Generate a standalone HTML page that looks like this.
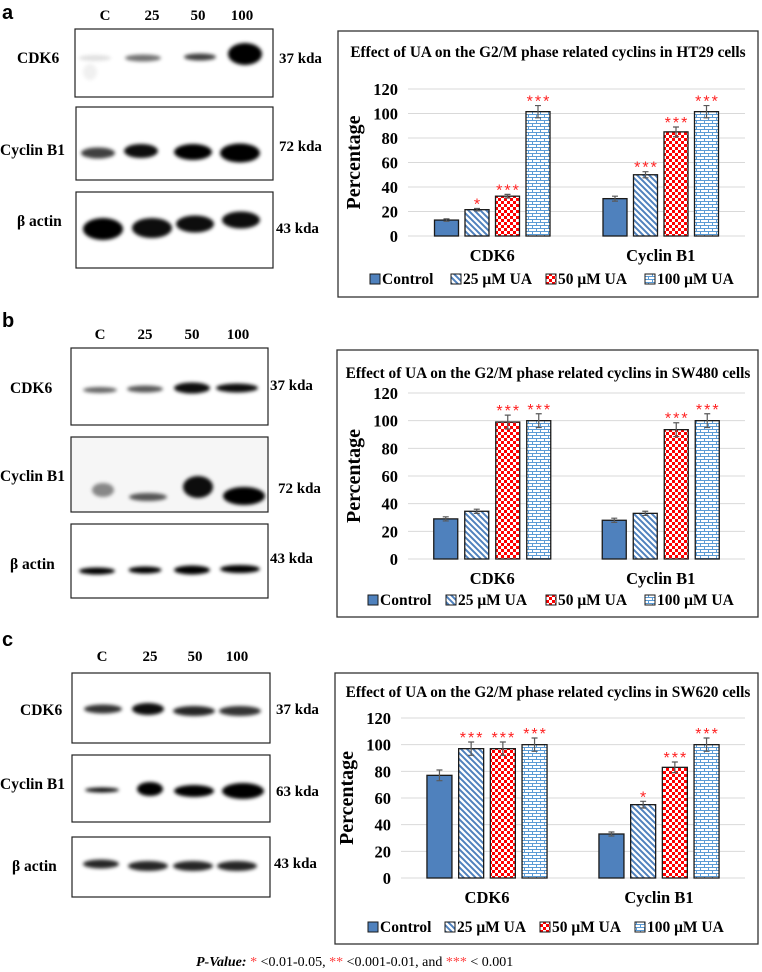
<!DOCTYPE html>
<html><head><meta charset="utf-8"><style>
html,body{margin:0;padding:0;background:#fff}
svg{display:block}
text{font-family:"Liberation Serif",serif;font-weight:bold;fill:#000}
</style></head><body>
<svg id="fig" width="762" height="972" viewBox="0 0 762 972" xmlns="http://www.w3.org/2000/svg">
<defs>
<filter id="blur" x="-50%" y="-100%" width="200%" height="300%"><feGaussianBlur stdDeviation="1.8"/></filter>
<pattern id="pDiag" patternUnits="userSpaceOnUse" width="6" height="6"><rect width="6" height="6" fill="#fff"/><path d="M-1,-1 L7,7 M-1,5 L1,7 M5,-1 L7,1" stroke="#4f81bd" stroke-width="2"/></pattern>
<pattern id="pCheck" patternUnits="userSpaceOnUse" width="6" height="6"><rect width="6" height="6" fill="#fff"/><rect width="3" height="3" fill="#ff0000"/><rect x="3" y="3" width="3" height="3" fill="#ff0000"/></pattern>
<pattern id="pBrick" patternUnits="userSpaceOnUse" width="8" height="6"><rect width="8" height="6" fill="#fff"/><path d="M0,0.5 H8 M0,3.5 H8 M0.5,0.5 V3.5 M4.5,3.5 V6" stroke="#5b9bd5" stroke-width="1"/></pattern>
</defs>

<text x="2" y="19" style="font-family:'Liberation Sans',sans-serif;font-size:20px">a</text>
<text x="2" y="327" style="font-family:'Liberation Sans',sans-serif;font-size:20px">b</text>
<text x="2" y="646" style="font-family:'Liberation Sans',sans-serif;font-size:20px">c</text>

<g id="blots"></g>
<g id="charts"></g>

<text x="196" y="966" font-size="14" style="font-weight:normal"><tspan style="font-weight:bold;font-style:italic">P-Value:</tspan> <tspan style="fill:#ff4040">*</tspan> &lt;0.01-0.05, <tspan style="fill:#ff4040">**</tspan> &lt;0.001-0.01, and <tspan style="fill:#ff4040">***</tspan> &lt; 0.001</text>
</svg>

<script>
const categories = ["CDK6", "Cyclin B1"];
const seriesNames = ["Control", "25 μM UA", "50 μM UA", "100 μM UA"];
const yTicks = [0, 20, 40, 60, 80, 100, 120];
const yMax = 120;

const ht29Cdk6 = [13, 21.5, 32.5, 101.5];
const ht29Cyclin = [30.5, 50, 85, 101.5];
const ht29Cdk6Err = [1, 1, 1.5, 5];
const ht29CyclinErr = [2, 2.5, 4, 5];
const ht29Cdk6Stars = ["", "*", "***", "***"];
const ht29CyclinStars = ["", "***", "***", "***"];

const sw480Cdk6 = [29, 34.5, 99, 100];
const sw480Cyclin = [28, 33, 93.5, 100];
const sw480Cdk6Err = [1.5, 1.5, 5, 5];
const sw480CyclinErr = [1.5, 1.5, 5, 5];
const sw480Cdk6Stars = ["", "", "***", "***"];
const sw480CyclinStars = ["", "", "***", "***"];

const sw620Cdk6 = [77, 97, 97, 100];
const sw620Cyclin = [33, 55, 83, 100];
const sw620Cdk6Err = [4, 5, 5, 5];
const sw620CyclinErr = [1.5, 2.5, 4, 5];
const sw620Cdk6Stars = ["", "***", "***", "***"];
const sw620CyclinStars = ["", "*", "***", "***"];

const NS = "http://www.w3.org/2000/svg";
function mk(tag, attrs, parent) {
  const e = document.createElementNS(NS, tag);
  for (const k in attrs) e.setAttribute(k, attrs[k]);
  parent.appendChild(e);
  return e;
}
const fills = ["#4f81bd", "url(#pDiag)", "url(#pCheck)", "url(#pBrick)"];

function drawChart(id, cfg) {
  const root = document.getElementById("charts");
  const g = mk("g", {}, root);
  
  
  const box = mk("rect", {x: cfg.box[0], y: cfg.box[1], width: cfg.box[2], height: cfg.box[3], fill: "none", stroke: "#333", "stroke-width": 1.3}, g);
  
  
  const t = mk("text", {x: cfg.titleX, y: cfg.titleY, "font-size": 15.3, "text-anchor": "middle"}, g);
  t.textContent = cfg.title;
  
  
  const yScale = v => cfg.y0 - (cfg.y0 - cfg.yTop) * v / yMax;
  yTicks.forEach(v => {
    const gl = mk("line", {x1: cfg.left, x2: cfg.right, y1: yScale(v), y2: yScale(v), stroke: "#d9d9d9", "stroke-width": 1}, g);
    
    
    const tl = mk("text", {x: cfg.tickX, y: yScale(v) + 6, "font-size": 16.5, "text-anchor": "end"}, g);
    tl.textContent = v;
    
    
  });
  const yl = mk("text", {x: 0, y: 0, "font-size": 20, "text-anchor": "middle", transform: "translate(" + cfg.ylabX + "," + ((cfg.y0 + cfg.yTop) / 2) + ") rotate(-90)"}, g);
  yl.textContent = "Percentage";
  
  
  const catW = (cfg.right - cfg.left) / categories.length;
  categories.forEach((c, ci) => {
    const cx = cfg.left + catW * (ci + 0.5);
    const vals = cfg.values[ci], errs = cfg.errors[ci], stars = cfg.stars[ci];
    vals.forEach((v, si) => {
      const bx = cx + (si - 1.5) * cfg.step - cfg.bw / 2;
      const top = yScale(v);
      const r = mk("rect", {x: bx, y: top, width: cfg.bw, height: cfg.y0 - top, fill: fills[si], stroke: "#1a1a1a", "stroke-width": 1.3}, g);
      
      
      const mx = bx + cfg.bw / 2;
      const e1 = yScale(v + errs[si]), e2 = yScale(v - errs[si]);
      const eb = mk("path", {d: "M" + mx + "," + e1 + " V" + e2 + " M" + (mx - 3) + "," + e1 + " H" + (mx + 3) + " M" + (mx - 3) + "," + e2 + " H" + (mx + 3), stroke: "#595959", "stroke-width": 1.2, fill: "none"}, g);
      
      
      if (stars[si]) {
        const st = mk("text", {x: mx + 1, y: e1 + 1, "font-size": 16, "text-anchor": "middle", "letter-spacing": "2", style: "fill:#ff2020;font-weight:normal;font-family:'Liberation Sans',sans-serif"}, g);
        st.textContent = stars[si];
        
        
      }
    });
    const cl = mk("text", {x: cx, y: cfg.catY, "font-size": 16.5, "text-anchor": "middle"}, g);
    cl.textContent = c;
    
    
  });
  seriesNames.forEach((n, si) => {
    const lx = cfg.legX[si];
    const sq = mk("rect", {x: lx - 5, y: cfg.legY - 10, width: 10, height: 10, fill: fills[si], stroke: "#1a1a1a", "stroke-width": 1}, g);
    
    
    const lt = mk("text", {x: lx + 7, y: cfg.legY, "font-size": 15.5}, g);
    lt.textContent = n;
    
    
  });
}

drawChart("ht29", {box: [338, 31, 420, 266], title: "Effect of UA on the G2/M phase related cyclins in HT29 cells", titleX: 548, titleY: 57,
  left: 408, right: 745, y0: 236, yTop: 89, tickX: 398, ylabX: 360, catY: 261, legY: 284, legX: [375, 456, 551, 650], bw: 24, step: 30.5,
  values: [ht29Cdk6, ht29Cyclin], errors: [ht29Cdk6Err, ht29CyclinErr], stars: [ht29Cdk6Stars, ht29CyclinStars]});
drawChart("sw480", {box: [337, 350, 421, 267], title: "Effect of UA on the G2/M phase related cyclins in SW480 cells", titleX: 548, titleY: 378,
  left: 408, right: 745, y0: 559, yTop: 393, tickX: 398, ylabX: 360, catY: 584, legY: 605, legX: [373, 451, 551, 650], bw: 24, step: 31,
  values: [sw480Cdk6, sw480Cyclin], errors: [sw480Cdk6Err, sw480CyclinErr], stars: [sw480Cdk6Stars, sw480CyclinStars]});
drawChart("sw620", {box: [335, 673, 423, 271], title: "Effect of UA on the G2/M phase related cyclins in SW620 cells", titleX: 548, titleY: 697,
  left: 401, right: 745, y0: 878, yTop: 718, tickX: 391, ylabX: 353, catY: 903, legY: 932, legX: [373, 450, 545, 640], bw: 25, step: 31.7,
  values: [sw620Cdk6, sw620Cyclin], errors: [sw620Cdk6Err, sw620CyclinErr], stars: [sw620Cdk6Stars, sw620CyclinStars]});

const blotRoot = document.getElementById("blots");
function blotPanel(id, lanes, laneY, boxes, rows) {
  const g = mk("g", {}, blotRoot);
  
  
  lanes.forEach(l => {
    const t = mk("text", {x: l[1], y: laneY, "font-size": 15, "text-anchor": "middle"}, g);
    t.textContent = l[0];
    
    
  });
  rows.forEach((r, i) => {
    const b = boxes[i];
    if (r.bg) mk("rect", {x: b[0], y: b[1], width: b[2] - b[0], height: b[3] - b[1], fill: r.bg}, g);
    const bg = mk("g", {filter: "url(#blur)"}, g);
    r.bands.forEach(bd => {
      mk("ellipse", {cx: bd[0], cy: bd[1], rx: bd[2] / 2, ry: bd[3] / 2, fill: "#000", opacity: bd[4]}, bg);
    });
    const fr = mk("rect", {x: b[0], y: b[1], width: b[2] - b[0], height: b[3] - b[1], fill: "none", stroke: "#222", "stroke-width": 1.2}, g);
    
    
    const nl = mk("text", {x: r.nameX, y: r.nameY, "font-size": 15.5}, g);
    nl.textContent = r.name;
    
    
    const kl = mk("text", {x: r.kdaX, y: r.kdaY, "font-size": 15}, g);
    kl.textContent = r.kda;
    
    
  });
}
blotPanel("a", [["C", 105], ["25", 152], ["50", 198], ["100", 242]], 20,
  [[75, 29, 273, 97], [76, 107, 273, 180], [76, 192, 273, 268]],
  [{name: "CDK6", nameX: 17, nameY: 63, kda: "37 kda", kdaX: 279, kdaY: 63,
    bands: [[95, 58, 32, 6, 0.12], [90, 72, 14, 16, 0.06], [143, 58, 36, 7, 0.55], [200, 57, 32, 7, 0.75], [245, 54, 34, 22, 1]]},
   {name: "Cyclin B1", nameX: 0, nameY: 155, kda: "72 kda", kdaX: 279, kdaY: 151,
    bands: [[98, 153, 34, 11, 0.75], [141, 151, 34, 14, 0.95], [193, 152, 38, 16, 1], [240, 153, 40, 19, 1]]},
   {name: "β actin", nameX: 17, nameY: 226, kda: "43 kda", kdaX: 276, kdaY: 233,
    bands: [[103, 229, 40, 22, 1], [152, 228, 40, 20, 0.95], [195, 224, 38, 17, 0.95], [241, 220, 38, 17, 0.95]]}]);
blotPanel("b", [["C", 100], ["25", 145], ["50", 192], ["100", 238]], 339,
  [[71, 348, 268, 425], [71, 437, 268, 512], [71, 524, 268, 598]],
  [{name: "CDK6", nameX: 10, nameY: 393, kda: "37 kda", kdaX: 270, kdaY: 390,
    bands: [[100, 390, 34, 6, 0.6], [145, 389, 36, 7, 0.65], [192, 388, 36, 11, 0.95], [237, 388, 42, 9, 0.95]]},
   {name: "Cyclin B1", nameX: 0, nameY: 481, kda: "72 kda", kdaX: 278, kdaY: 493, bg: "#f6f6f6",
    bands: [[103, 490, 22, 14, 0.45], [148, 497, 38, 8, 0.65], [198, 487, 30, 22, 0.95], [244, 496, 42, 18, 1]]},
   {name: "β actin", nameX: 10, nameY: 569, kda: "43 kda", kdaX: 270, kdaY: 563,
    bands: [[97, 571, 36, 7, 1], [145, 570, 33, 7, 1], [192, 570, 36, 9, 1], [240, 569, 40, 8, 1]]}]);
blotPanel("c", [["C", 102], ["25", 150], ["50", 195], ["100", 237]], 661,
  [[72, 673, 270, 743], [72, 755, 270, 822], [72, 837, 270, 897]],
  [{name: "CDK6", nameX: 20, nameY: 715, kda: "37 kda", kdaX: 276, kdaY: 714,
    bands: [[103, 709, 38, 9, 0.8], [148, 709, 32, 12, 0.95], [194, 711, 42, 10, 0.85], [240, 711, 42, 10, 0.8]]},
   {name: "Cyclin B1", nameX: 0, nameY: 789, kda: "63 kda", kdaX: 276, kdaY: 796,
    bands: [[102, 790, 34, 5, 0.95], [150, 789, 26, 14, 1], [194, 791, 40, 12, 1], [243, 791, 42, 16, 1]]},
   {name: "β actin", nameX: 12, nameY: 871, kda: "43 kda", kdaX: 274, kdaY: 868,
    bands: [[101, 864, 36, 9, 0.85], [148, 866, 40, 10, 0.85], [193, 866, 40, 10, 0.85], [237, 866, 40, 10, 0.85]]}]);
</script>
</body></html>
